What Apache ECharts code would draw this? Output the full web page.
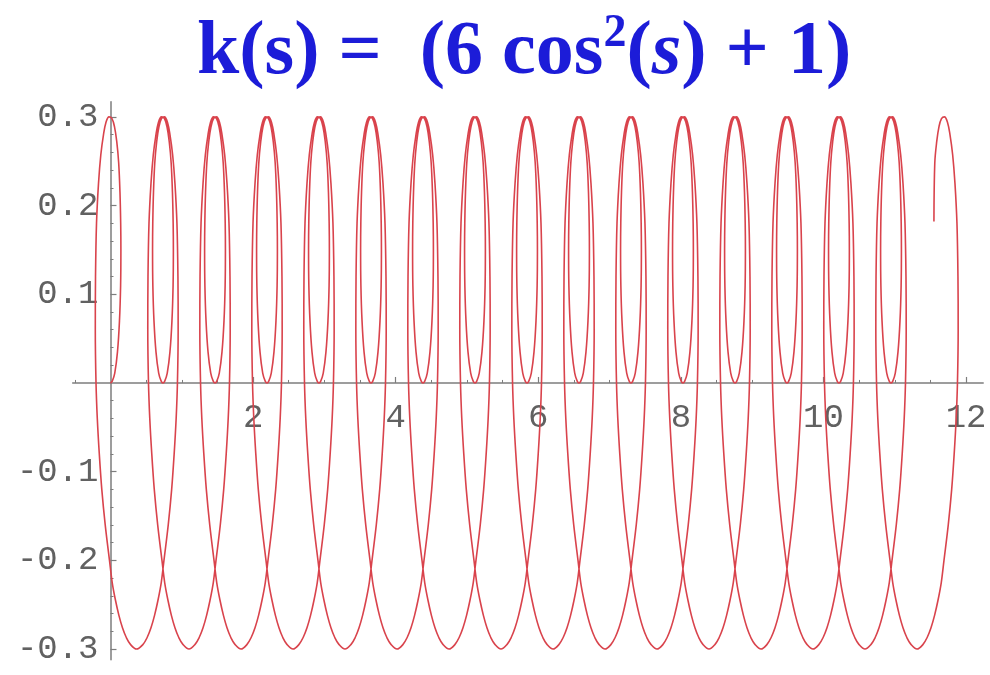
<!DOCTYPE html>
<html><head><meta charset="utf-8">
<script src="https://cdn.jsdelivr.net/npm/echarts@6/dist/echarts.min.js"></script>
<style>html,body{margin:0;padding:0;background:#fff}#c{width:990px;height:675px}</style>
</head><body><div id="c"></div>
<script>
// centres of the narrow upper loops (x)
const loopCenters = [0, 0.736, 1.466, 2.195, 2.924, 3.654, 4.383, 5.112, 5.842, 6.571, 7.300, 8.029, 8.759, 9.488, 10.217, 10.947, 11.676];
// start point of the curve
const startPoint = [0, 0];
// first arch of a loop: up the outer right strand, over the top, down the inner left to the inner bottom
const archOneDx = [0.203, 0.213, 0.210, 0.196, 0.168, 0.136, 0.098, 0.063, 0.021, -0.021, -0.056, -0.088, -0.115, -0.133, -0.143, -0.146, -0.142, -0.126, -0.098, -0.060, -0.025, 0];
const archOneY  = [0, 0.06, 0.12, 0.18, 0.225, 0.257, 0.280, 0.294, 0.300, 0.298, 0.289, 0.272, 0.248, 0.215, 0.18, 0.15, 0.11, 0.07, 0.035, 0.011, 0.002, 0];
// second arch: up the inner right strand, over the top, down the outer left strand
const archTwoDx = [0.025, 0.060, 0.098, 0.126, 0.142, 0.146, 0.143, 0.133, 0.115, 0.088, 0.056, 0.021, -0.021, -0.063, -0.098, -0.136, -0.168, -0.196, -0.210, -0.213, -0.203];
const archTwoY  = [0.002, 0.011, 0.035, 0.07, 0.11, 0.15, 0.18, 0.215, 0.248, 0.272, 0.289, 0.298, 0.300, 0.294, 0.280, 0.257, 0.225, 0.18, 0.12, 0.06, 0];
// lower lobe, descending branch (relative to the loop it leaves)
const lobeDownDx = [-0.185, -0.157, -0.122, -0.074, -0.014, 0.024, 0.070, 0.118, 0.168, 0.222, 0.282, 0.365];
const lobeDownY  = [-0.04, -0.08, -0.12, -0.16, -0.20, -0.225, -0.245, -0.262, -0.276, -0.287, -0.295, -0.300];
// lower lobe, ascending branch (relative to the loop it reaches)
const lobeUpDx = [-0.282, -0.222, -0.168, -0.118, -0.070, -0.024, 0.014, 0.074, 0.122, 0.157, 0.185];
const lobeUpY  = [-0.295, -0.287, -0.276, -0.262, -0.245, -0.225, -0.20, -0.16, -0.12, -0.08, -0.04];
// last, unfinished arch
const lastArchDx = [0.203, 0.213, 0.210, 0.196, 0.168, 0.136, 0.098, 0.063, 0.021, -0.021, -0.056, -0.088, -0.115, -0.127];
const lastArchY  = [0, 0.06, 0.12, 0.18, 0.225, 0.257, 0.280, 0.294, 0.300, 0.298, 0.289, 0.272, 0.248, 0.182];

const xLabelTicks = [2, 4, 6, 8, 10, 12];
const xMinorTicks = [-0.5, 0.5, 1, 1.5, 2.5, 3, 3.5, 4.5, 5, 5.5, 6.5, 7, 7.5, 8.5, 9, 9.5, 10.5, 11, 11.5];
const yLabelTicks = [-0.3, -0.2, -0.1, 0.1, 0.2, 0.3];
const yMinorTicks = [-0.28, -0.26, -0.24, -0.22, -0.18, -0.16, -0.14, -0.12, -0.08, -0.06, -0.04, -0.02, 0.02, 0.04, 0.06, 0.08, 0.12, 0.14, 0.16, 0.18, 0.22, 0.24, 0.26, 0.28];

function addPiece(out, cx, dxs, ys) {
  for (let i = 0; i < dxs.length; i++) out.push([+(cx + dxs[i]).toFixed(4), ys[i]]);
}
const curve = [startPoint.slice()];
addPiece(curve, loopCenters[0], archTwoDx, archTwoY);
addPiece(curve, loopCenters[0], lobeDownDx, lobeDownY);
for (let k = 1; k < loopCenters.length - 1; k++) {
  addPiece(curve, loopCenters[k], lobeUpDx, lobeUpY);
  addPiece(curve, loopCenters[k], archOneDx, archOneY);
  addPiece(curve, loopCenters[k], archTwoDx, archTwoY);
  addPiece(curve, loopCenters[k], lobeDownDx, lobeDownY);
}
const lastC = loopCenters[loopCenters.length - 1];
addPiece(curve, lastC, lobeUpDx, lobeUpY);
addPiece(curve, lastC, lastArchDx, lastArchY);

const axisGray = '#7d7d7d';
const labelGray = '#616161';
const mono = 'Liberation Mono';
const XMIN = -0.53, XMAX = 12.24, YMIN = -0.312, YMAX = 0.317;
const G = {left: 72.7, right: 6.8, top: 101.8, bottom: 15.3};

const chart = echarts.init(document.getElementById('c'), null, {renderer: 'canvas'});
function xAxisDef(ticks, len, labels, off) {
  return {
    type: 'value', min: XMIN, max: XMAX, position: 'bottom', offset: off,
    axisLine: {show: labels, onZero: false, lineStyle: {color: axisGray, width: 1.5}},
    splitLine: {show: false},
    axisTick: {inside: true, length: len, customValues: ticks, lineStyle: {color: axisGray, width: labels ? 1.2 : 1}},
    axisLabel: labels ? {customValues: xLabelTicks, margin: 18, fontFamily: mono, fontSize: 34, color: labelGray}
                      : {show: false}
  };
}
function yAxisDef(ticks, len, labels, off) {
  return {
    type: 'value', min: YMIN, max: YMAX, position: 'left', offset: off,
    axisLine: {show: labels, onZero: false, lineStyle: {color: axisGray, width: 1.5}},
    splitLine: {show: false},
    axisTick: {inside: true, length: len, customValues: ticks, lineStyle: {color: axisGray, width: labels ? 1.2 : 1}},
    axisLabel: labels ? {customValues: yLabelTicks, margin: 12, fontFamily: mono, fontSize: 34, color: labelGray,
                         formatter: v => (Math.round(v * 10) / 10).toString()}
                      : {show: false}
  };
}
function build(xOff, yOff) {
  return {
    animation: false,
    backgroundColor: '#ffffff',
    title: {
      left: 192, top: 6,
      text: '{a|k(s) =  (6 cos}{b|2}{a|(}{c|s}{a|) + 1)}',
      textStyle: {
        rich: {
          a: {fontFamily: 'Liberation Serif', fontWeight: 'bold', fontSize: 76, lineHeight: 84, color: '#1c1cd8'},
          b: {fontFamily: 'Liberation Serif', fontWeight: 'bold', fontSize: 46, lineHeight: 50, verticalAlign: 'top', color: '#1c1cd8'},
          c: {fontFamily: 'Liberation Serif', fontWeight: 'bold', fontStyle: 'italic', fontSize: 76, lineHeight: 84, color: '#1c1cd8'}
        }
      }
    },
    grid: Object.assign({outerBoundsMode: 'none'}, G),
    xAxis: [xAxisDef(xLabelTicks, 6, true, xOff), xAxisDef(xMinorTicks, 3, false, xOff)],
    yAxis: [yAxisDef(yLabelTicks, 6, true, yOff), yAxisDef(yMinorTicks, 3, false, yOff)],
    series: [{
      type: 'line',
      xAxisIndex: 0, yAxisIndex: 0,
      data: curve,
      showSymbol: false,
      smooth: 0.35,
      lineStyle: {color: '#d9434c', width: 1.6},
      clip: false
    }]
  };
}
chart.setOption(build(0, 0));
// move the axes so that they cross at the origin (0, 0)
const origin = chart.convertToPixel({xAxisIndex: 0, yAxisIndex: 0}, [0, 0]);
const gridBottomPx = 675 - G.bottom;
chart.setOption(build(-(gridBottomPx - origin[1]), -(origin[0] - G.left)), true);
</script>
</body></html>
